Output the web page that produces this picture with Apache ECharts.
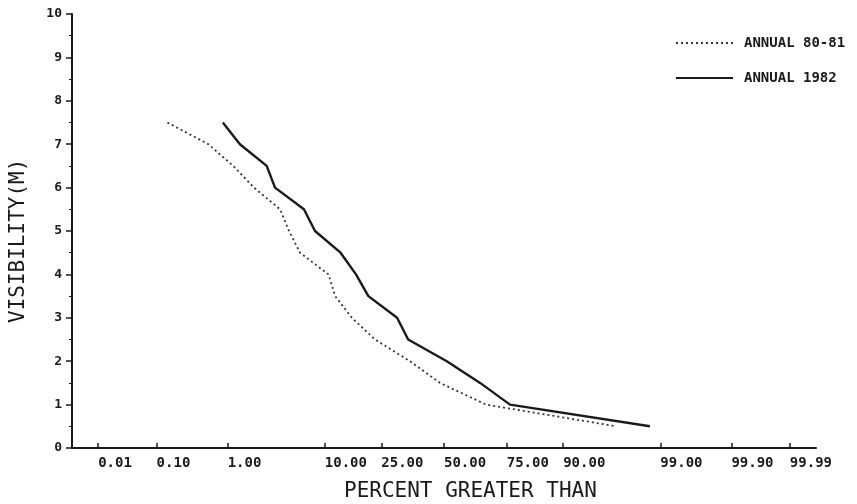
<!DOCTYPE html>
<html><head><meta charset="utf-8">
<script src="https://cdn.jsdelivr.net/npm/echarts@6/dist/echarts.min.js"></script>
<style>html,body{margin:0;background:#fff}#c{width:857px;height:504px}</style>
</head><body><div id="c"></div>
<script>
// Visibility levels (M) and percent of time greater than
const visibility = [7.5, 7.0, 6.5, 6.0, 5.5, 5.0, 4.5, 4.0, 3.5, 3.0, 2.5, 2.0, 1.5, 1.0, 0.5];
const pct8081 = [0.147, 0.564, 1.17, 2.05, 3.9, 4.78, 6.08, 10.7, 12.1, 16.1, 22.9, 35.7, 48.3, 67.4, 96.8];
const pct1982 = [0.87, 1.41, 2.83, 3.46, 6.6, 8.27, 13.3, 17.2, 20.8, 30.7, 35.0, 51.2, 65.1, 76.1, 98.66];
const xTickPct = [0.01, 0.10, 1, 10, 25, 50, 75, 90, 99, 99.9, 99.99];
const xTickLabels = ['0.01', '0.10', '1.00', '10.00', '25.00', '50.00', '75.00', '90.00', '99.00', '99.90', '99.99'];
const seriesNames = ['ANNUAL 80-81', 'ANNUAL 1982'];
const xTitle = 'PERCENT GREATER THAN';
const yTitle = 'VISIBILITY(M)';

// inverse normal CDF (probability scale)
function probit(p) {
  const a = [-3.969683028665376e+01, 2.209460984245205e+02, -2.759285104469687e+02, 1.383577518672690e+02, -3.066479806614716e+01, 2.506628277459239e+00];
  const b = [-5.447609879822406e+01, 1.615858368580409e+02, -1.556989798598866e+02, 6.680131188771972e+01, -1.328068155288572e+01];
  const c = [-7.784894002430293e-03, -3.223964580411365e-01, -2.400758277161838e+00, -2.549732539343734e+00, 4.374664141464968e+00, 2.938163982698783e+00];
  const d = [7.784695709041462e-03, 3.224671290700398e-01, 2.445134137142996e+00, 3.754408661907416e+00];
  const plow = 0.02425;
  let q, r;
  if (p < plow) {
    q = Math.sqrt(-2 * Math.log(p));
    return (((((c[0]*q+c[1])*q+c[2])*q+c[3])*q+c[4])*q+c[5]) / ((((d[0]*q+d[1])*q+d[2])*q+d[3])*q+1);
  } else if (p <= 1 - plow) {
    q = p - 0.5; r = q*q;
    return (((((a[0]*r+a[1])*r+a[2])*r+a[3])*r+a[4])*r+a[5])*q / (((((b[0]*r+b[1])*r+b[2])*r+b[3])*r+b[4])*r+1);
  } else {
    q = Math.sqrt(-2 * Math.log(1 - p));
    return -(((((c[0]*q+c[1])*q+c[2])*q+c[3])*q+c[4])*q+c[5]) / ((((d[0]*q+d[1])*q+d[2])*q+d[3])*q+1);
  }
}

const tickZ = xTickPct.map(p => probit(p / 100));
function labelFor(v) {
  let best = 0, bd = Infinity;
  tickZ.forEach((z, i) => { const dd = Math.abs(z - v); if (dd < bd) { bd = dd; best = i; } });
  return xTickLabels[best];
}
const toData = pcts => visibility.map((v, i) => [probit(pcts[i] / 100), v]);

const ink = '#1a1a1a';
const font = 'DejaVu Sans Mono';
const chart = echarts.init(document.getElementById('c'), null, { renderer: 'canvas' });
chart.setOption({
  animation: false,
  backgroundColor: '#fff',
  grid: { left: 72, right: 41, top: 14, bottom: 56, containLabel: false },
  legend: {
    orient: 'vertical', left: 670, top: 31, itemWidth: 57, itemHeight: 14, itemGap: 21,
    data: seriesNames,
    itemStyle: { opacity: 0, borderWidth: 0 },
    textStyle: { fontFamily: font, fontWeight: 'bold', fontSize: 14, color: ink, padding: [0, 0, 0, 6] }
  },
  graphic: [
    { type: 'text', left: 470 - 126, top: 481,
      style: { text: xTitle, font: '21px "DejaVu Sans Mono"', fill: ink } },
    { type: 'text', x: 8, y: 245 + 78, rotation: Math.PI / 2,
      style: { text: yTitle, font: '21px "DejaVu Sans Mono"', fill: ink } }
  ],
  xAxis: {
    type: 'value', min: -4, max: 4,
    axisLine: { onZero: false, lineStyle: { color: ink, width: 2 } },
    axisTick: { show: true, inside: true, length: 5, customValues: tickZ, lineStyle: { color: ink, width: 1.5 } },
    axisLabel: { customValues: tickZ, formatter: v => labelFor(v), align: 'left', margin: 8,
      fontFamily: font, fontWeight: 'bold', fontSize: 14, color: ink },
    splitLine: { show: false }
  },
  yAxis: {
    type: 'value', min: 0, max: 10, interval: 1,
    axisLine: { show: true, onZero: false, lineStyle: { color: ink, width: 2 } },
    axisTick: { show: true, length: 6, lineStyle: { color: ink, width: 1.5 } },
    minorTick: { show: true, splitNumber: 2, length: 3, lineStyle: { color: ink, width: 1 } },
    axisLabel: { margin: 10, fontFamily: font, fontWeight: 'bold', fontSize: 13, color: ink },
    splitLine: { show: false }
  },
  series: [
    { name: seriesNames[0], type: 'line', data: toData(pct8081), symbol: 'none',
      lineStyle: { color: '#333', width: 1.8, type: [2, 3] }, itemStyle: { color: '#333' } },
    { name: seriesNames[1], type: 'line', data: toData(pct1982), symbol: 'none',
      lineStyle: { color: ink, width: 2.4 }, itemStyle: { color: ink } }
  ]
});
</script></body></html>
